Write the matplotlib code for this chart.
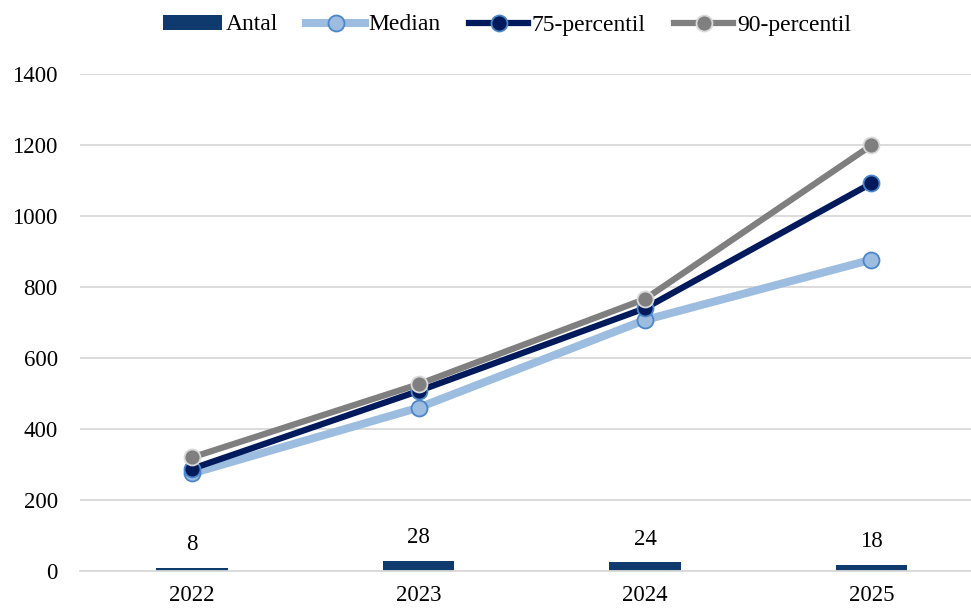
import numpy as np
import matplotlib
matplotlib.use('Agg')
import matplotlib.pyplot as plt

plt.rcParams['font.family'] = ['Liberation Serif', 'DejaVu Serif']

years = ['2022', '2023', '2024', '2025']
antal = [8, 28, 24, 18]
median = [275, 460, 707, 877]
p75 = [288, 507, 740, 1092]
p90 = [320, 526, 766, 1199]

fig = plt.figure(figsize=(9.71, 6.10), dpi=100)
ax = fig.add_axes([80/971, 39/610, (971-80)/971, (571-74)/610])

x = np.arange(len(years))
ax.bar(x, antal, width=0.315, color='#0e3a6e', label='Antal', zorder=2)
for xi, v in zip(x, antal):
    ax.text(xi, v + 36, str(v), ha='center', va='bottom', fontsize=16.5)

ax.plot(x, median, '-o', color='#9dbde0', lw=5.8, ms=11.5, mfc='#9dbde0',
        mec='#4a86c8', mew=1.3, label='Median', zorder=3)
ax.plot(x, p75, '-o', color='#001a5c', lw=4.5, ms=11.5, mfc='#001a5c',
        mec='#4a86c8', mew=1.3, label='75-percentil', zorder=4)
ax.plot(x, p90, '-o', color='#7f7f7f', lw=4.5, ms=11.5, mfc='#7f7f7f',
        mec='#d9d9d9', mew=1.3, label='90-percentil', zorder=5)

ax.set_xlim(-0.495, 3.44)
ax.set_ylim(0, 1400)
ax.set_yticks(range(0, 1401, 200))
ax.set_xticks(x)
ax.set_xticklabels(years)
ax.tick_params(axis='both', length=0, labelsize=16.5)
ax.tick_params(axis='y', pad=16)
ax.tick_params(axis='x', pad=10)
ax.grid(axis='y', color='#d9d9d9', lw=1.3, zorder=0)
ax.set_axisbelow(True)
for s in ['top', 'right', 'left']:
    ax.spines[s].set_visible(False)
ax.spines['bottom'].set_color('#d9d9d9')
ax.spines['bottom'].set_linewidth(1.3)

handles, labels = ax.get_legend_handles_labels()
order = [labels.index(l) for l in ['Antal', 'Median', '75-percentil', '90-percentil']]
fig.legend([handles[i] for i in order], [labels[i] for i in order],
           loc='center', bbox_to_anchor=(0.522, 1 - 25/610), ncol=4, frameon=False,
           fontsize=17, handlelength=2.5, columnspacing=1.2, handletextpad=0.15,
           handleheight=0.6)

fig.savefig('out.png', dpi=100)
